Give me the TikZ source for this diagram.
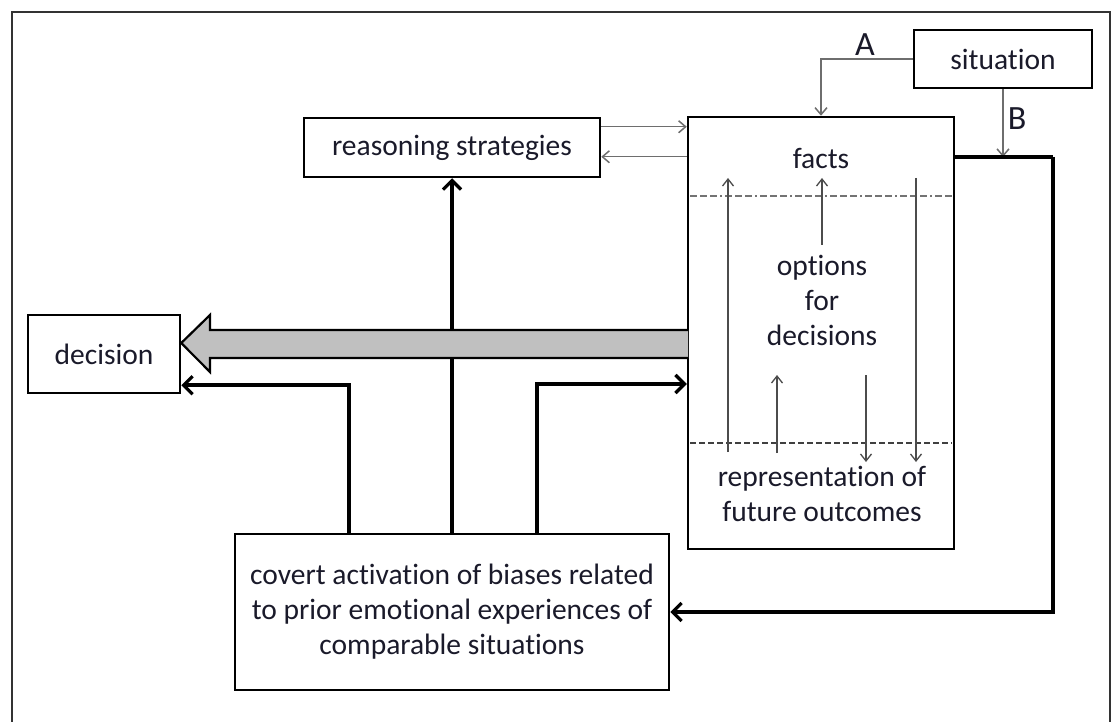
\documentclass[tikz,border=0pt]{standalone}
\usepackage{fontspec}
\setmainfont{Carlito}[Ligatures=NoCommon]
\usetikzlibrary{arrows.meta,calc}
\definecolor{txt}{HTML}{1A1A2A}
\definecolor{conn}{HTML}{6E6E6E}
\definecolor{bigfill}{HTML}{C0C0C0}
\tikzset{
  box/.style={draw=black,line width=2.5pt,rectangle,inner sep=0pt,align=center,text=txt,fill=white},
  lbl/.style={inner sep=0pt,align=center,text=txt},
  thin/.style={draw=conn,line width=1.5pt,-{Straight Barb[length=7pt,width=12pt,line width=1.5pt]}},
  inner/.style={draw=black!70,line width=1.3pt,-{Straight Barb[length=7pt,width=11pt,line width=1.3pt]}},
  heavy/.style={draw=black,line width=4pt,-{Straight Barb[length=9pt,width=18pt,line width=3.2pt]}},
  heavyline/.style={draw=black,line width=4pt},
  frame/.style={draw=black!80,line width=2.5pt}
}
\begin{document}
\begin{tikzpicture}[x=1pt,y=-1pt,font=\fontsize{29.5}{35}\selectfont]
\useasboundingbox (0,0) rectangle (1112,722);
\fill[white] (0,0) rectangle (1112,722);
\draw[frame] (12,722) -- (12,12) -- (1110,12) -- (1110,722);

% boxes
\node[box,minimum width=178pt,minimum height=58pt] (situation) at (1003,59) {situation};
\node[box,minimum width=266pt,minimum height=432pt] (main) at (821,333) {};
\node[box,minimum width=296pt,minimum height=59pt] (reasoning) at (452,147.5) {reasoning strategies};
\node[box,minimum width=152pt,minimum height=78pt] (decision) at (104,354) {decision};
\node[box,minimum width=434pt,minimum height=156pt] (covert) at (452,612) {covert activation of biases related\\to prior emotional experiences of\\comparable situations};

% texts inside main box
\node[lbl] (facts) at (821,158) {facts};
\node[lbl] (options) at (822,300) {options\\for\\decisions};
\node[lbl] (repr) at (822,494) {representation of\\future outcomes};

% dividers inside main box
\coordinate (d1l) at (690,196); \coordinate (d1r) at (952,196);
\coordinate (d2l) at (690,443); \coordinate (d2r) at (952,443);
\draw[color=black!55,line width=1.3pt,dash pattern=on 7pt off 3pt on 7pt off 3pt on 7pt off 3pt on 2pt off 3pt] (d1l) -- (d1r);
\draw[color=black!75,line width=1.3pt,dash pattern=on 6pt off 3pt] (d2l) -- (d2r);

% inner arrows
\coordinate (i1a) at (728,452); \coordinate (i1b) at (728,178);
\coordinate (i2a) at (822,245); \coordinate (i2b) at (822,178);
\coordinate (i3a) at (777,453); \coordinate (i3b) at (777,375);
\coordinate (i4a) at (866,375); \coordinate (i4b) at (866,462);
\coordinate (i5a) at (916,178); \coordinate (i5b) at (916,462);
\draw[inner] (i1a) -- (i1b);
\draw[inner] (i2a) -- (i2b);
\draw[inner] (i3a) -- (i3b);
\draw[inner] (i4a) -- (i4b);
\draw[inner] (i5a) -- (i5b);

% situation connectors A and B
\draw[thin] (situation.west) -| (main.north);
\node[lbl,font=\fontsize{34}{40}\selectfont] (labA) at (865,45) {A};
\coordinate (rc) at (1053,157);
\coordinate (mE) at (main.east |- rc);
\draw[thin] (situation.south) -- (situation.south |- rc);
\node[lbl,font=\fontsize{34}{40}\selectfont] (labB) at (1017,119) {B};
\draw[heavyline] (mE) -- (rc);
\draw[heavy] (rc) |- (covert.east);

% reasoning <-> main
\coordinate (r1a) at ($(reasoning.north east)+(0,10)$);
\coordinate (r2b) at ($(reasoning.north east)+(0,40)$);
\draw[thin] (r1a) -- (main.west |- r1a);
\draw[thin] (main.west |- r2b) -- (r2b);

% covert to reasoning
\draw[heavy] (covert.north) -- (reasoning.south);

% big gray arrow main -> decision
\coordinate (tip) at ($(decision.east)+(0,-11)$);
\coordinate (st) at (688,330);
\coordinate (sb) at (688,358);
\fill[bigfill] (st) -- (210,330) -- (210,315) -- (tip) -- (210,372) -- (210,358) -- (sb) -- cycle;
\draw[black,line width=2.2pt,line join=miter] (st) -- (210,330) -- (210,315) -- (tip) -- (210,372) -- (210,358) -- (sb);

% covert to decision and to main
\coordinate (cl) at ($(covert.north)+(-103,0)$);
\coordinate (cr) at ($(covert.north)+(85,0)$);
\coordinate (ry) at (600,384);
\draw[heavy] (cl) |- ($(decision.south east)+(0,-9)$);
\draw[heavy] (cr) |- (main.west |- ry);
\end{tikzpicture}
\end{document}
